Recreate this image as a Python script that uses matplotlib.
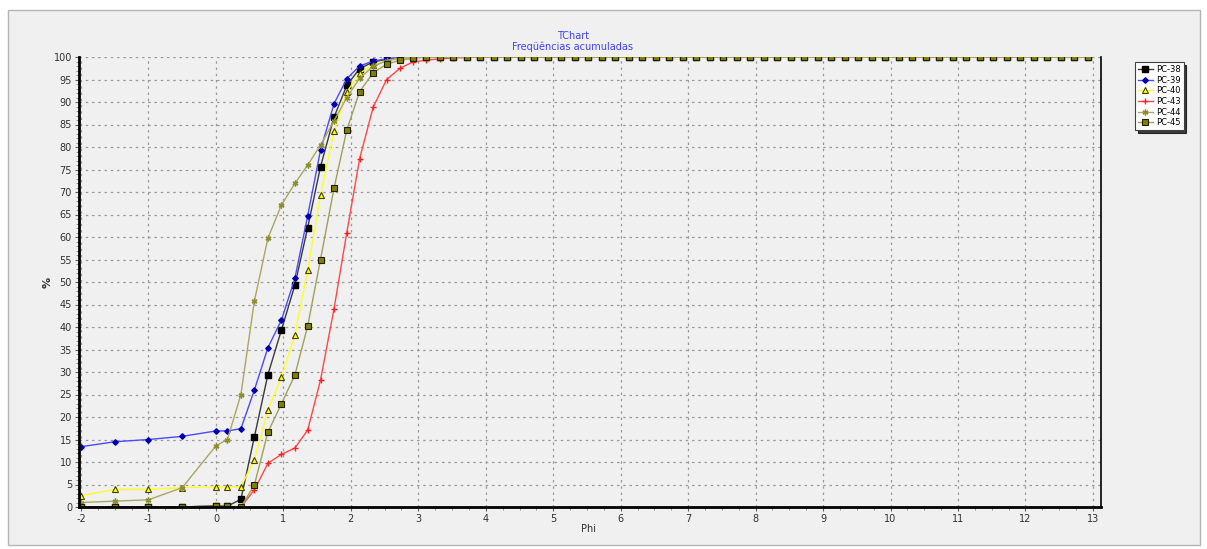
import numpy as np
import matplotlib
matplotlib.use("Agg")
import matplotlib.pyplot as plt
from matplotlib.patches import Rectangle
from matplotlib.ticker import MultipleLocator

plt.rcParams['axes.unicode_minus'] = False

W, H = 1207, 549

# phi classes (measured part of the curves)
phi = [-2, -1.5, -1, -0.5, 0, 0.17, 0.37, 0.57, 0.77, 0.97, 1.17, 1.36,
       1.55, 1.75, 1.94, 2.13, 2.33, 2.53, 2.73, 2.92, 3.12]

pc38 = [0, 0, 0, 0, 0.3, 0.2, 1.7, 15.6, 29.4, 39.3, 49.3, 62.1,
        75.6, 86.6, 93.7, 97.4, 98.9, 99.5, 99.8, 100, 100]
pc39 = [13.4, 14.5, 15.0, 15.7, 16.9, 16.9, 17.4, 26.0, 35.4, 41.5, 50.8, 64.7,
        79.3, 89.6, 95.2, 98.0, 99.1, 99.6, 99.9, 100, 100]
pc40 = [2.5, 3.9, 3.9, 4.3, 4.5, 4.5, 4.5, 10.5, 21.5, 28.8, 38.2, 52.7,
        69.3, 83.5, 92.2, 96.4, 98.2, 99.2, 99.7, 99.9, 100]
pc43 = [0, 0, 0, 0, 0, 0, 0, 3.8, 9.7, 11.7, 13.1, 17.1,
        28.2, 44.0, 61.0, 77.4, 88.8, 95.0, 97.5, 98.9, 99.3]
pc44 = [1.0, 1.3, 1.6, 4.3, 13.6, 15.0, 25.0, 45.8, 59.7, 67.1, 71.9, 76.0,
        80.4, 85.8, 91.0, 95.3, 97.9, 99.2, 99.7, 99.9, 100]
pc45 = [0, 0, 0, 0, 0.2, 0.2, 0, 4.9, 16.6, 22.9, 29.3, 40.2,
        55.0, 70.8, 83.8, 92.3, 96.5, 98.4, 99.3, 99.7, 100]

# the flat tail at 100 % (PC-43 stops earlier)
tail_phi = list(np.round(np.arange(3.32, 13.0, 0.2), 2))
tail_phi_43 = [p for p in tail_phi if p <= 6.4]
pc43_tail = [99.6, 99.8, 99.9] + [100] * (len(tail_phi_43) - 3)

labels = ['PC-38', 'PC-39', 'PC-40', 'PC-43', 'PC-44', 'PC-45']

fig = plt.figure(figsize=(W / 100, H / 100), dpi=100)
fig.patch.set_facecolor('white')
fig.patches.append(Rectangle((8 / W, 4 / H), 1192 / W, 535 / H, transform=fig.transFigure,
                             facecolor='#f0f0f0', edgecolor='#b4b4b4', lw=1, zorder=-5))

ax = fig.add_axes([79 / W, 1 - 507 / H, (1101 - 79) / W, (507 - 57) / H])
ax.set_facecolor('#f0f0f0')

x = phi + tail_phi
full = lambda s: s + [100] * len(tail_phi)

ax.plot(x, full(pc38), color='#3a3a3a', lw=1, marker='s', ms=3.8, mfc='black', mec='black', label=labels[0])
ax.plot(x, full(pc39), color='#4a4aff', lw=1, marker='D', ms=2.8, mfc='#0000b0', mec='#0000b0', label=labels[1])
ax.plot(x, full(pc40), color='#ffff20', lw=1, marker='^', ms=4, mfc='#ffff00', mec='#404000', mew=0.8, label=labels[2])
ax.plot(phi + tail_phi_43, pc43 + pc43_tail, color='#ff4848', lw=1, marker='+', ms=4.5, mec='#ff2020', mew=1, label=labels[3])
ax.plot(x, full(pc44), color='#a8a860', lw=1, marker=(6, 2, 0), ms=4.2, mec='#8c8c30', mew=1, label=labels[4])
ax.plot(x, full(pc45), color='#a0a058', lw=1, marker='s', ms=3.8, mfc='#808000', mec='#202000', mew=0.8, label=labels[5])

ax.set_xlim(-2.03, 13.12)
ax.set_ylim(0, 100)
ax.xaxis.set_major_locator(MultipleLocator(1))
ax.xaxis.set_minor_locator(MultipleLocator(0.25))
ax.yaxis.set_major_locator(MultipleLocator(5))
ax.yaxis.set_minor_locator(MultipleLocator(1))
ax.grid(True, which='major', color='#9a9a9a', linestyle=(0, (2, 3)), lw=0.9)
ax.tick_params(which='major', length=3, width=0.8, pad=2, labelsize=7, labelcolor='#303030', color='#606060')
ax.tick_params(which='minor', length=2, width=0.6, color='#808080')

for side in ['left', 'bottom']:
    ax.spines[side].set_linewidth(2)
    ax.spines[side].set_color('black')
ax.spines['right'].set_linewidth(1.2)
ax.spines['top'].set_visible(False)

fig.text(573 / W, 1 - 36 / H, 'TChart', color='#4040ff', fontsize=7, ha='center', va='center')
fig.text(573 / W, 1 - 47 / H, 'Freqüências acumuladas', color='#4040ff', fontsize=7, ha='center', va='center')
fig.text(589 / W, 1 - 529 / H, 'Phi', fontsize=7, color='#303030', ha='center', va='center')
fig.text(48 / W, 1 - 282 / H, '%', fontsize=8, fontweight='bold', color='#303030', rotation=90,
         ha='center', va='center')

leg = ax.legend(loc='upper left', bbox_to_anchor=(1135 / W, 1 - 62 / H), bbox_transform=fig.transFigure,
                fontsize=6, frameon=True, fancybox=False, edgecolor='#404040', framealpha=1,
                handlelength=1.8, handletextpad=0.35, labelspacing=0.2, borderpad=0.35,
                borderaxespad=0, shadow={'color': 'black', 'alpha': 0.75, 'ox': 2, 'oy': -2})
leg.get_frame().set_linewidth(0.8)

fig.savefig('out.png', dpi=100)
